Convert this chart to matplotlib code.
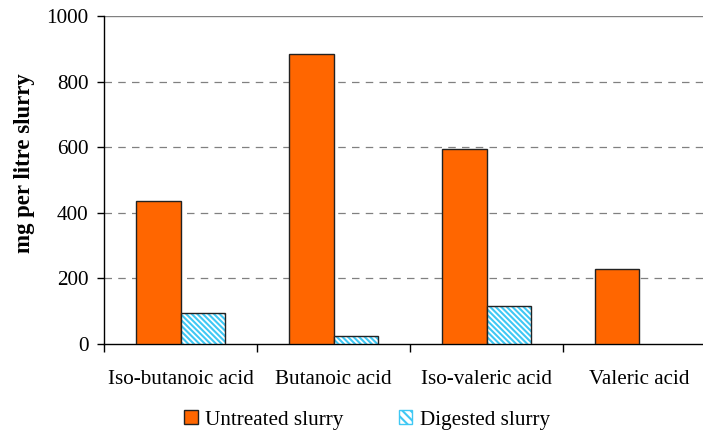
import matplotlib
matplotlib.use("Agg")
import matplotlib.pyplot as plt
from matplotlib.patches import Patch
import numpy as np

categories = ["Iso-butanoic acid", "Butanoic acid", "Iso-valeric acid", "Valeric acid"]
untreated = [435, 884, 595, 228]
digested = [93, 24, 115, 0]
yticks = [0, 200, 400, 600, 800, 1000]

plt.rcParams["font.family"] = ["Liberation Serif", "DejaVu Serif"]
plt.rcParams["hatch.linewidth"] = 1.5

orange = "#FF6600"
hatch_blue = "#3FC8F4"
fs = 15.2

fig = plt.figure(figsize=(7.03, 4.34), dpi=100)
ax = fig.add_axes([104 / 703, 90 / 434, 612 / 703, 328 / 434])

x = np.arange(len(categories))
w = 0.288
hatch = "\\" * 6

ax.bar(x - w / 2, untreated, width=w, color=orange, edgecolor="#222222",
       linewidth=1.0, zorder=3)
# hatched fill, then a black outline on top
ax.bar(x + w / 2, digested, width=w, color="white", edgecolor=hatch_blue,
       hatch=hatch, linewidth=0, zorder=3)
dig_mask = np.array(digested) > 0
ax.bar((x + w / 2)[dig_mask], np.array(digested)[dig_mask], width=w, fill=False,
       edgecolor="#222222", linewidth=1.0, zorder=4)

ax.set_xlim(-0.5, 3.5)
ax.set_ylim(0, 1000)
ax.set_yticks(yticks)
ax.set_yticklabels([str(v) for v in yticks], fontsize=fs)
for v in yticks[1:-1]:
    ax.axhline(v, color="#808080", linestyle=(0, (6, 5)), linewidth=0.9, zorder=1)
ax.axhline(1000, color="#808080", linewidth=1.0, zorder=1)

ax.set_xticks(x)
ax.set_xticklabels(categories, fontsize=fs)
ax.tick_params(axis="x", length=0, pad=19)
ax.set_xticks(np.arange(-0.5, 3.6, 1.0), minor=True)
ax.tick_params(axis="x", which="minor", length=5.5, width=1.0, direction="out")
ax.tick_params(axis="y", length=5.2, width=1.0, direction="out", pad=6)

for s in ["top", "right"]:
    ax.spines[s].set_visible(False)
ax.spines["left"].set_linewidth(1.0)
ax.spines["bottom"].set_linewidth(1.0)

fig.text(25 / 703, 1 - 163 / 434, "mg per litre slurry", rotation=90,
         ha="center", va="center", fontsize=16.4, fontweight="bold")

handles = [Patch(facecolor=orange, edgecolor="#222222", linewidth=1.0),
           Patch(facecolor="white", edgecolor=hatch_blue, hatch="\\" * 4, linewidth=1.0)]
fig.legend(handles, ["Untreated slurry", "Digested slurry"], loc="center",
           bbox_to_anchor=(367 / 703, 1 - 420 / 434), ncol=2, frameon=False,
           fontsize=fs, handlelength=0.65, handleheight=0.65, handletextpad=0.35,
           columnspacing=2.6)

fig.savefig("out.png", dpi=100)
